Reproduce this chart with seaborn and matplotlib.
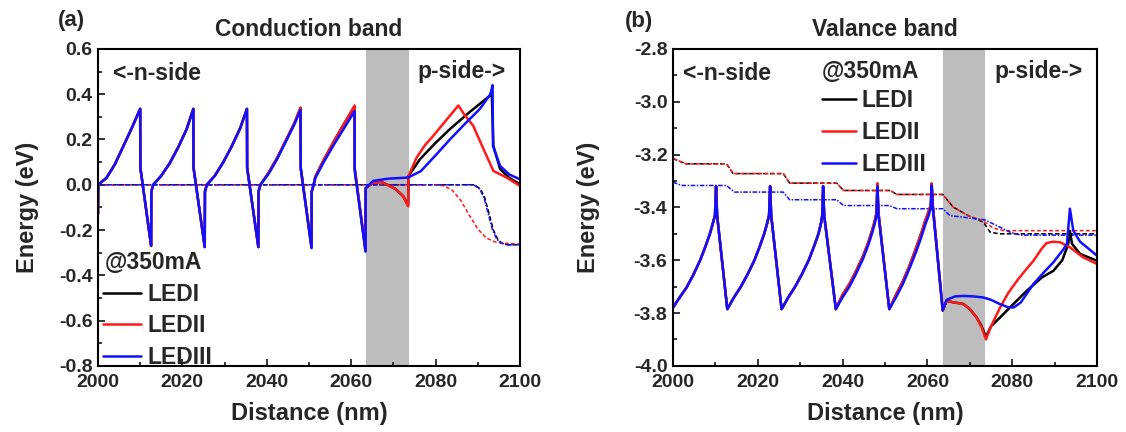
import matplotlib
matplotlib.use("Agg")
import matplotlib.pyplot as plt
import pandas as pd
import seaborn as sns
from matplotlib.ticker import MultipleLocator

# ---------------------------------------------------------------- data
led_names = ["LEDI", "LEDII", "LEDIII"]
led_colors = ["#000000", "#ff1a1a", "#1010ff"]

# Conduction band: first three quantum-well periods (same for all LEDs)
cb_qw_x = [2000.0, 2000.05, 2002.0, 2004.0, 2006.0, 2008.0, 2010.0, 2010.05, 2012.6, 2012.65,
           2013.1, 2015.0, 2017.0, 2019.0, 2021.0, 2022.6, 2022.65, 2025.3, 2025.35,
           2025.8, 2027.7, 2029.7, 2031.7, 2033.7, 2035.3, 2035.35, 2038.0, 2038.05]
cb_qw_y = [-0.13, 0.0, 0.03, 0.09, 0.17, 0.25, 0.335, 0.075, -0.27, -0.03,
           0.0, 0.04, 0.095, 0.165, 0.245, 0.335, 0.075, -0.275, -0.03,
           0.0, 0.04, 0.10, 0.17, 0.25, 0.335, 0.075, -0.275, -0.03]

# Conduction band: last wells, EBL and p-side for each LED
cb_led1_x = [2038.5, 2040.5, 2042.5, 2044.5, 2046.5, 2048.0, 2048.05, 2050.6, 2050.65,
             2051.1, 2051.5, 2053.5, 2056.0, 2058.5, 2060.8, 2060.85, 2063.4, 2063.45,
             2065.2, 2067.2, 2070.4, 2072.3, 2073.5, 2073.6, 2076.3, 2080.0, 2083.4,
             2088.0, 2092.9, 2093.3, 2093.7, 2095.3, 2097.5, 2100.0]
cb_led1_y = [0.0, 0.055, 0.12, 0.195, 0.27, 0.34, 0.075, -0.275, -0.03,
             0.0, 0.035, 0.11, 0.195, 0.275, 0.345, 0.07, -0.29, -0.015,
             0.01, 0.012, -0.017, -0.05, -0.09, 0.039, 0.113, 0.185, 0.246,
             0.32, 0.394, 0.41, 0.172, 0.069, 0.03, 0.002]

cb_led2_x = [2038.5, 2040.5, 2042.5, 2044.5, 2046.5, 2048.0, 2048.05, 2050.6, 2050.65,
             2051.1, 2051.5, 2053.5, 2056.0, 2058.5, 2060.8, 2060.85, 2063.4, 2063.45,
             2065.2, 2067.2, 2070.4, 2072.3, 2073.5, 2073.6, 2075.5, 2077.5, 2079.5,
             2082.5, 2085.4, 2087.0, 2088.9, 2091.3, 2093.7, 2096.8, 2100.0]
cb_led2_y = [0.0, 0.055, 0.12, 0.195, 0.27, 0.34, 0.075, -0.275, -0.03,
             0.0, 0.035, 0.11, 0.195, 0.275, 0.35, 0.07, -0.29, -0.015,
             0.01, 0.012, -0.017, -0.05, -0.095, 0.039, 0.12, 0.175, 0.217,
             0.285, 0.35, 0.305, 0.261, 0.16, 0.061, 0.032, -0.005]

cb_led3_x = [2038.5, 2040.5, 2042.5, 2044.5, 2046.5, 2048.0, 2048.05, 2050.6, 2050.65,
             2051.1, 2051.5, 2053.5, 2056.0, 2058.5, 2060.8, 2060.85, 2063.4, 2063.45,
             2065.2, 2068.8, 2073.5, 2076.5, 2080.0, 2083.4, 2087.0, 2090.5, 2093.0,
             2093.5, 2093.6, 2095.3, 2097.5, 2100.0]
cb_led3_y = [0.0, 0.05, 0.115, 0.19, 0.265, 0.33, 0.07, -0.28, -0.03,
             0.0, 0.03, 0.10, 0.18, 0.255, 0.325, 0.06, -0.295, -0.015,
             0.017, 0.027, 0.032, 0.06, 0.13, 0.20, 0.27, 0.335, 0.40,
             0.44, 0.17, 0.083, 0.045, 0.024]

# Electron quasi-Fermi levels
efn_led1_x = [2000.0, 2089.2, 2090.7, 2091.7, 2092.7, 2093.7, 2094.7, 2095.7, 2097.0, 2100.0]
efn_led1_y = [0.0, 0.0, -0.02, -0.06, -0.13, -0.2, -0.24, -0.258, -0.265, -0.265]
efn_led2_x = [2000.0, 2080.0, 2082.0, 2084.0, 2086.0, 2088.0, 2090.0, 2092.0, 2094.0, 2096.0, 2100.0]
efn_led2_y = [0.0, 0.0, -0.005, -0.025, -0.07, -0.135, -0.195, -0.235, -0.252, -0.258, -0.262]
efn_led3_x = [2000.0, 2089.0, 2090.5, 2091.5, 2092.5, 2093.5, 2094.5, 2095.5, 2097.0, 2100.0]
efn_led3_y = [0.0, 0.0, -0.02, -0.06, -0.13, -0.2, -0.24, -0.258, -0.265, -0.265]

# Valence band: first three quantum-well periods (same for all LEDs)
vb_qw_x = [2000.0, 2001.6, 2003.2, 2004.8, 2006.4, 2007.6, 2008.7, 2009.4, 2009.9, 2010.15, 2010.4, 2012.8,
           2014.4, 2016.0, 2017.6, 2019.2, 2020.4, 2021.5, 2022.2, 2022.65, 2022.9, 2023.15, 2025.6,
           2027.2, 2028.8, 2030.4, 2032.0, 2033.2, 2034.3, 2034.9, 2035.2, 2035.4, 2035.65, 2038.4]
vb_qw_y = [-3.779, -3.74, -3.703, -3.655, -3.60, -3.55, -3.50, -3.46, -3.43, -3.32, -3.43, -3.785,
           -3.74, -3.70, -3.653, -3.60, -3.55, -3.50, -3.46, -3.43, -3.32, -3.43, -3.785,
           -3.74, -3.70, -3.653, -3.60, -3.55, -3.50, -3.46, -3.43, -3.32, -3.43, -3.785]

# Valence band: last wells, EBL and p-side for each LED
vb_led1_x = [2040.0, 2041.6, 2043.2, 2044.8, 2046.0, 2047.0, 2047.6, 2048.0, 2048.2, 2048.45, 2051.0,
             2052.6, 2054.2, 2055.8, 2057.4, 2058.6, 2059.6, 2060.3, 2060.8, 2061.0, 2061.25, 2063.6,
             2064.5, 2066.5, 2068.5, 2070.0, 2071.6, 2072.8, 2073.8, 2075.0, 2077.1, 2080.0,
             2083.4, 2087.0, 2089.7, 2091.8, 2093.2, 2093.6, 2094.1, 2096.0, 2100.0]
vb_led1_y = [-3.73, -3.69, -3.64, -3.585, -3.535, -3.485, -3.45, -3.42, -3.31, -3.42, -3.785,
             -3.73, -3.68, -3.62, -3.55, -3.495, -3.445, -3.415, -3.39, -3.31, -3.39, -3.79,
             -3.755, -3.76, -3.766, -3.785, -3.817, -3.85, -3.89, -3.85, -3.817, -3.77,
             -3.716, -3.665, -3.64, -3.60, -3.538, -3.49, -3.538, -3.576, -3.602]

vb_led2_x = [2040.0, 2041.6, 2043.2, 2044.8, 2046.0, 2047.0, 2047.6, 2048.0, 2048.2, 2048.45, 2051.0,
             2052.6, 2054.2, 2055.8, 2057.4, 2058.6, 2059.6, 2060.3, 2060.8, 2061.0, 2061.25, 2063.6,
             2064.5, 2066.5, 2068.5, 2070.0, 2071.6, 2072.8, 2073.8, 2075.0, 2077.1, 2079.0,
             2081.1, 2083.0, 2085.0, 2087.0, 2088.1, 2089.5, 2091.3, 2093.6, 2096.7, 2100.0]
vb_led2_y = [-3.73, -3.69, -3.64, -3.585, -3.535, -3.485, -3.45, -3.42, -3.31, -3.42, -3.785,
             -3.73, -3.68, -3.62, -3.55, -3.495, -3.445, -3.415, -3.39, -3.31, -3.39, -3.79,
             -3.755, -3.76, -3.766, -3.785, -3.817, -3.855, -3.90, -3.85, -3.78, -3.725,
             -3.678, -3.64, -3.602, -3.555, -3.535, -3.53, -3.532, -3.551, -3.589, -3.614]

vb_led3_x = [2040.0, 2041.6, 2043.2, 2044.8, 2046.0, 2047.0, 2047.6, 2048.0, 2048.2, 2048.45, 2051.0,
             2052.6, 2054.2, 2055.8, 2057.4, 2058.6, 2059.6, 2060.3, 2060.8, 2061.0, 2061.25, 2063.6,
             2064.5, 2066.5, 2068.5, 2071.0, 2073.2, 2075.0, 2077.1, 2079.0, 2080.3, 2082.0,
             2085.0, 2087.5, 2089.7, 2092.0, 2092.9, 2093.6, 2094.4, 2096.0, 2097.6, 2100.0]
vb_led3_y = [-3.74, -3.70, -3.65, -3.595, -3.545, -3.495, -3.46, -3.43, -3.32, -3.43, -3.785,
             -3.74, -3.69, -3.63, -3.565, -3.51, -3.46, -3.43, -3.40, -3.317, -3.40, -3.79,
             -3.75, -3.737, -3.735, -3.737, -3.741, -3.75, -3.766, -3.778, -3.779, -3.76,
             -3.69, -3.645, -3.608, -3.56, -3.538, -3.405, -3.488, -3.53, -3.551, -3.583]

# Hole quasi-Fermi levels
efp_led1_x = [2000.0, 2003.0, 2012.6, 2014.2, 2026.0, 2027.5, 2038.6, 2040.2, 2051.2, 2052.8,
              2063.6, 2066.1, 2069.5, 2073.2, 2074.8, 2077.0, 2100.0]
efp_led1_y = [-3.215, -3.235, -3.235, -3.272, -3.272, -3.308, -3.308, -3.336, -3.336, -3.351,
              -3.351, -3.399, -3.43, -3.456, -3.494, -3.50, -3.50]
efp_led2_x = [2000.0, 2003.0, 2012.6, 2014.2, 2026.0, 2027.5, 2038.6, 2040.2, 2051.2, 2052.8,
              2063.6, 2066.1, 2069.5, 2073.2, 2075.5, 2078.0, 2100.0]
efp_led2_y = [-3.215, -3.235, -3.235, -3.272, -3.272, -3.308, -3.308, -3.336, -3.336, -3.351,
              -3.351, -3.399, -3.43, -3.452, -3.478, -3.488, -3.488]
efp_led3_x = [2000.0, 2002.0, 2012.6, 2014.5, 2026.0, 2027.5, 2038.6, 2040.2, 2051.0, 2052.8,
              2063.6, 2065.3, 2073.5, 2076.5, 2079.5, 2082.0, 2100.0]
efp_led3_y = [-3.304, -3.317, -3.317, -3.342, -3.342, -3.371, -3.371, -3.393, -3.393, -3.405,
              -3.405, -3.431, -3.447, -3.47, -3.494, -3.505, -3.505]

ebl_span = (2063.6, 2073.6)

# ---------------------------------------------------------------- style
sns.set_theme(style="ticks")
plt.rcParams["font.family"] = ["Liberation Sans", "DejaVu Sans"]
plt.rcParams["font.weight"] = "bold"
plt.rcParams["axes.unicode_minus"] = False

fig = plt.figure(figsize=(11.26, 4.32), dpi=100)
ax_a = fig.add_axes([0.087, 0.153, 0.3748, 0.7338])
ax_b = fig.add_axes([0.5977, 0.153, 0.3766, 0.7338])


def band_line(ax, x, y, color, lw=1.8, ls="-"):
    df = pd.DataFrame({"x": x, "y": y})
    sns.lineplot(data=df, x="x", y="y", ax=ax, sort=False, estimator=None,
                 color=color, linewidth=lw, linestyle=ls, legend=False)
    return ax.lines[-1]


def style_axes(ax, ylim, ymajor, yminor):
    ax.set_xlim(2000, 2100)
    ax.set_ylim(*ylim)
    ax.xaxis.set_major_locator(MultipleLocator(20))
    ax.xaxis.set_minor_locator(MultipleLocator(10))
    ax.yaxis.set_major_locator(MultipleLocator(ymajor))
    ax.yaxis.set_minor_locator(MultipleLocator(yminor))
    ax.tick_params(which="both", direction="in", top=False, right=False,
                   labelsize=14, width=1.3)
    ax.tick_params(which="major", length=5)
    ax.tick_params(axis="y", which="major", pad=4)
    ax.tick_params(axis="x", which="major", pad=6)
    ax.tick_params(which="minor", length=3)
    for lab in ax.get_xticklabels() + ax.get_yticklabels():
        lab.set_fontweight("bold")
    for sp in ax.spines.values():
        sp.set_linewidth(1.5)
        sp.set_color("black")
    ax.axvspan(*ebl_span, color="#bdbdbd", lw=0, zorder=0)
    ax.set_xlabel("Distance (nm)", fontsize=17, fontweight="bold", labelpad=8)


qf_styles = [(0, (3, 1.5)), (0, (2.5, 1.5)), (0, (3, 1, 1, 1))]

# ---------------------------------------------------------------- (a) conduction band
style_axes(ax_a, (-0.8, 0.6), 0.2, 0.1)
ax_a.set_yticks([0.6, 0.4, 0.2, 0.0, -0.2, -0.4, -0.6, -0.8])
ax_a.set_yticklabels(["0.6", "0.4", "0.2", "0.0", "-0.2", "-0.4", "-0.6", "-0.8"])
for lab in ax_a.get_yticklabels():
    lab.set_fontweight("bold")

for xs, ys, c, st in zip([efn_led1_x, efn_led2_x, efn_led3_x],
                         [efn_led1_y, efn_led2_y, efn_led3_y], led_colors, qf_styles):
    band_line(ax_a, xs, ys, c, lw=1.1, ls=st)

handles_a = []
for xs, ys, c in zip([cb_led1_x, cb_led2_x, cb_led3_x],
                     [cb_led1_y, cb_led2_y, cb_led3_y], led_colors):
    h = band_line(ax_a, cb_qw_x + xs, cb_qw_y + ys, c)
    handles_a.append(h)

ax_a.set_ylabel("Energy (eV)", fontsize=17, fontweight="bold", labelpad=14)
ax_a.set_title("Conduction band", fontsize=16.5, fontweight="bold", pad=9)
ax_a.text(2003.6, 0.49, "<-n-side", fontsize=16.5, fontweight="bold", va="center", ha="left")
ax_a.text(2075.8, 0.50, "p-side->", fontsize=16.5, fontweight="bold", va="center", ha="left")
ax_a.text(2001.7, -0.344, "@350mA", fontsize=16.5, fontweight="bold", va="center", ha="left")
ax_a.legend(handles_a, led_names, loc="upper left", bbox_to_anchor=(0.012, 0.263),
            frameon=False, handlelength=1.65, handletextpad=0.3, labelspacing=0.38,
            borderpad=0, borderaxespad=0, prop=dict(weight="bold", size=16.5))

# ---------------------------------------------------------------- (b) valence band
style_axes(ax_b, (-4.0, -2.8), 0.2, 0.1)
ax_b.set_yticks([-2.8, -3.0, -3.2, -3.4, -3.6, -3.8, -4.0])
ax_b.set_yticklabels(["-2.8", "-3.0", "-3.2", "-3.4", "-3.6", "-3.8", "-4.0"])
for lab in ax_b.get_yticklabels():
    lab.set_fontweight("bold")

for xs, ys, c, st in zip([efp_led1_x, efp_led2_x, efp_led3_x],
                         [efp_led1_y, efp_led2_y, efp_led3_y], led_colors, qf_styles):
    band_line(ax_b, xs, ys, c, lw=1.1, ls=st)

handles_b = []
for xs, ys, c in zip([vb_led1_x, vb_led2_x, vb_led3_x],
                     [vb_led1_y, vb_led2_y, vb_led3_y], led_colors):
    h = band_line(ax_b, vb_qw_x + xs, vb_qw_y + ys, c)
    handles_b.append(h)

ax_b.set_ylabel("Energy (eV)", fontsize=17, fontweight="bold", labelpad=24)
ax_b.set_title("Valance band", fontsize=16.5, fontweight="bold", pad=9)
ax_b.text(2002.4, -2.895, "<-n-side", fontsize=16.5, fontweight="bold", va="center", ha="left")
ax_b.text(2075.9, -2.887, "p-side->", fontsize=16.5, fontweight="bold", va="center", ha="left")
ax_b.text(2035.1, -2.886, "@350mA", fontsize=16.5, fontweight="bold", va="center", ha="left")
ax_b.legend(handles_b, led_names, loc="upper left", bbox_to_anchor=(0.351, 0.875),
            frameon=False, handlelength=1.5, handletextpad=0.25, labelspacing=0.4,
            borderpad=0, borderaxespad=0, prop=dict(weight="bold", size=16.5))

fig.text(0.051, 0.978, "(a)", fontsize=16, fontweight="bold", va="top", ha="left")
fig.text(0.555, 0.975, "(b)", fontsize=16, fontweight="bold", va="top", ha="left")

fig.savefig("out.png", dpi=100)
